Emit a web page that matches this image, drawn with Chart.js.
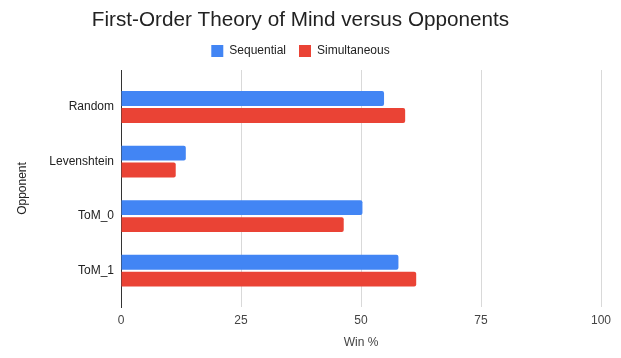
<!DOCTYPE html>
<html>
<head>
<meta charset="utf-8">
<script src="https://cdn.jsdelivr.net/npm/chart.js@4/dist/chart.umd.min.js"></script>
<style>
  html, body { margin: 0; padding: 0; background: #fff; }
  #wrap { width: 621px; height: 358px; }
</style>
</head>
<body>
<div id="wrap"><canvas id="tomChart"></canvas></div>
<script>
var opponents = ['Random', 'Levenshtein', 'ToM_0', 'ToM_1'];
var sequential = [54.8, 13.5, 50.3, 57.8];
var simultaneous = [59.2, 11.4, 46.4, 61.5];
var winTicks = [0, 25, 50, 75, 100];

var FONT = "Arial, 'Liberation Sans', sans-serif";

function toPoints(values) {
    return values.map(function(v, i) { return { x: v, y: i }; });
}

// a bit more room under the legend, like the original
var legendMargin = {
    id: 'legendMargin',
    beforeInit: function(chart) {
        var fitValue = chart.legend.fit;
        chart.legend.fit = function() {
            fitValue.bind(chart.legend)();
            this.height += 3;
        };
    }
};

document.addEventListener("DOMContentLoaded", function() {
    var ctx = document.getElementById('tomChart').getContext('2d');
    var myChart = new Chart(ctx, {
        type: 'bar',
        data: {
            datasets: [{
                label: 'Sequential',
                data: toPoints(sequential),
                backgroundColor: '#4285F4',
                borderRadius: 2,
                borderSkipped: 'start'
            }, {
                label: 'Simultaneous',
                data: toPoints(simultaneous),
                backgroundColor: '#EA4335',
                borderRadius: 2,
                borderSkipped: 'start'
            }]
        },
        plugins: [legendMargin],
        options: {
            indexAxis: 'y',
            responsive: true,
            maintainAspectRatio: false,
            animation: false,
            categoryPercentage: 0.62,
            barPercentage: 0.88,
            layout: { padding: { left: 0, right: 20, top: 0, bottom: 0 } },
            plugins: {
                title: {
                    display: true,
                    text: 'First-Order Theory of Mind versus Opponents',
                    color: '#222',
                    font: { family: FONT, size: 20.7, weight: 'normal', lineHeight: 1.0 },
                    padding: { top: 10, bottom: 1.3 }
                },
                legend: {
                    position: 'top',
                    labels: {
                        boxWidth: 12,
                        boxHeight: 12,
                        padding: 13,
                        color: '#222',
                        font: { family: FONT, size: 12 }
                    }
                },
                tooltip: { enabled: false }
            },
            scales: {
                x: {
                    type: 'linear',
                    min: 0,
                    max: 100,
                    afterBuildTicks: function(scale) {
                        scale.ticks = winTicks.map(function(v) { return { value: v }; });
                    },
                    afterFit: function(scale) { scale.height = 51; },
                    grid: {
                        color: function(c) { return c.tick && c.tick.value === 0 ? '#333' : '#d9d9d9'; },
                        drawTicks: false
                    },
                    border: { display: false },
                    ticks: {
                        padding: 6,
                        color: '#444',
                        font: { family: FONT, size: 12 }
                    },
                    title: {
                        display: true,
                        text: 'Win %',
                        color: '#444',
                        font: { family: FONT, size: 12 },
                        padding: { top: 4, bottom: 8 }
                    }
                },
                y: {
                    type: 'linear',
                    reverse: true,
                    offset: false,
                    min: -0.678,
                    max: 3.665,
                    afterBuildTicks: function(scale) {
                        scale.ticks = opponents.map(function(o, i) { return { value: i }; });
                    },
                    afterFit: function(scale) { scale.width = 121; },
                    grid: { display: false, drawTicks: false },
                    border: { display: true, color: '#333' },
                    ticks: {
                        padding: 7,
                        color: '#222',
                        font: { family: FONT, size: 12 },
                        callback: function(v) { return opponents[v]; }
                    },
                    title: {
                        display: true,
                        text: 'Opponent',
                        color: '#222',
                        font: { family: FONT, size: 12 },
                        padding: { top: 15, bottom: 0 }
                    }
                }
            }
        }
    });
});
</script>
</body>
</html>
